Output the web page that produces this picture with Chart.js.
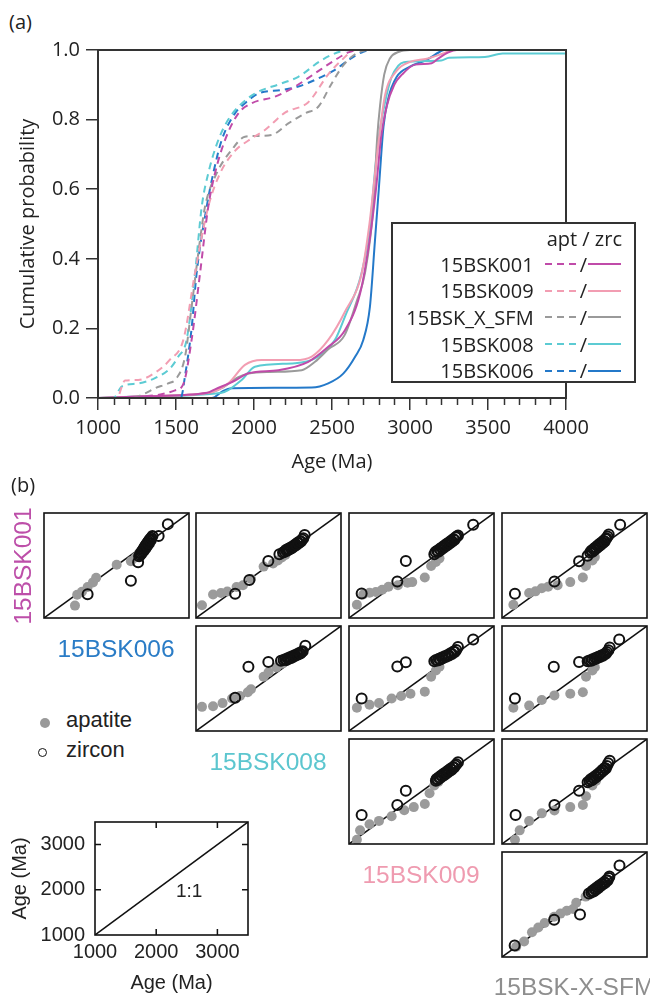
<!DOCTYPE html>
<html>
<head>
<meta charset="utf-8">
<title>Apatite / zircon age distributions</title>
<script src="https://cdn.jsdelivr.net/npm/chart.js@4.4.1/dist/chart.umd.min.js"></script>
<style>
  body { margin: 0; width: 650px; height: 995px; position: relative; overflow: hidden; background: #fff; }
  .holder { position: absolute; }
  .panel { position: absolute; font-family: 'Open Sans', sans-serif; font-size: 20px; color: #222; }
  .lbl { position: absolute; font-family: 'Liberation Sans', Arial, sans-serif; font-size: 24.5px; white-space: nowrap; transform: translate(-50%, -50%); }
  .key { position: absolute; font-family: 'Liberation Sans', Arial, sans-serif; font-size: 22px; color: #222; white-space: nowrap; }
</style>
</head>
<body>

<div class="panel" style="left:9px;top:8px;">(a)</div>
<div class="holder" style="left:0;top:0;width:650px;height:480px;"><canvas id="cdf_chart"></canvas></div>
<div id="legend" class="panel" style="left:391px;top:222px;width:245px;height:161px;box-sizing:border-box;border:2px solid #333;background:#fff;"></div>

<div class="panel" style="left:11px;top:471px;">(b)</div>
<div id="grid"></div>

<div class="lbl" style="left:23px;top:566px;color:#bd4fa9;transform:translate(-50%,-50%) rotate(-90deg);">15BSK001</div>
<div class="lbl" style="left:116px;top:649px;color:#2a7cc6;">15BSK006</div>
<div class="lbl" style="left:268px;top:762px;color:#5cc6cf;">15BSK008</div>
<div class="lbl" style="left:421px;top:875px;color:#ef9bb0;">15BSK009</div>
<div class="lbl" style="left:574px;top:987px;color:#8e8e8e;">15BSK-X-SFM</div>

<div class="key" style="left:40px;top:718px;width:10px;height:10px;border-radius:50%;background:#999;"></div>
<div class="key" style="left:66px;top:707px;">apatite</div>
<div class="key" style="left:38px;top:748px;width:7px;height:7px;border-radius:50%;border:1.6px solid #111;"></div>
<div class="key" style="left:66px;top:737px;">zircon</div>

<div class="holder" style="left:0;top:800px;width:262px;height:195px;"><canvas id="key_chart"></canvas></div>
<div class="key" style="left:176px;top:880px;font-size:19px;">1:1</div>

<script>
// ---- panel (a): cumulative probability, [age (Ma), probability] ----
const sampleNames = ['15BSK001', '15BSK009', '15BSK_X_SFM', '15BSK008', '15BSK006'];

const aptCdf001 = [[1000,0],[1200,0],[1300,0.005],[1400,0.01],[1494,0.022],[1547,0.04],[1600,0.167],[1654,0.358],[1707,0.55],[1750,0.646],[1814,0.741],[1900,0.818],[1985,0.847],[2135,0.866],[2263,0.895],[2391,0.933],[2519,0.971],[2605,0.993],[2680,1],[4000,1]];
const aptCdf009 = [[1000,0],[1120,0],[1173,0.05],[1258,0.052],[1376,0.076],[1461,0.11],[1547,0.167],[1622,0.36],[1707,0.55],[1782,0.645],[1878,0.71],[1964,0.74],[2070,0.77],[2199,0.82],[2348,0.85],[2476,0.93],[2560,0.97],[2650,1],[4000,1]];
const aptCdfX = [[1000,0],[1216,0],[1301,0.013],[1365,0.028],[1450,0.042],[1504,0.057],[1558,0.119],[1600,0.262],[1654,0.454],[1686,0.55],[1761,0.646],[1857,0.713],[1942,0.751],[2006,0.753],[2113,0.756],[2220,0.789],[2327,0.818],[2412,0.837],[2498,0.904],[2583,0.962],[2680,0.995],[2780,1],[4000,1]];
const aptCdf008 = [[1000,0],[1098,0],[1152,0.033],[1259,0.042],[1365,0.057],[1462,0.085],[1515,0.119],[1568,0.167],[1622,0.358],[1665,0.55],[1707,0.646],[1771,0.741],[1835,0.8],[1900,0.837],[2006,0.875],[2177,0.904],[2284,0.923],[2434,0.971],[2562,0.997],[2620,1],[4000,1]];
const aptCdf006 = [[1000,0],[1530,0],[1560,0.07],[1600,0.2],[1632,0.358],[1697,0.55],[1739,0.646],[1793,0.741],[1878,0.818],[1942,0.847],[2028,0.875],[2177,0.885],[2284,0.895],[2391,0.914],[2519,0.943],[2605,0.971],[2700,0.995],[2765,1],[4000,1]];

const zrcCdf001 = [[1000,0],[1300,0.005],[1700,0.015],[1750,0.025],[1878,0.05],[1964,0.071],[2156,0.08],[2348,0.104],[2476,0.147],[2583,0.195],[2680,0.3],[2740,0.45],[2782,0.6],[2815,0.75],[2850,0.837],[2899,0.9],[2950,0.93],[3032,0.958],[3139,0.962],[3180,0.975],[3246,0.993],[3300,1],[4000,1]];
const zrcCdf009 = [[1000,0],[1300,0.005],[1707,0.015],[1835,0.042],[1942,0.095],[2049,0.109],[2263,0.109],[2370,0.119],[2476,0.167],[2583,0.248],[2690,0.358],[2740,0.5],[2765,0.6],[2800,0.741],[2840,0.87],[2914,0.94],[3000,0.966],[3107,0.975],[3213,0.99],[3278,1],[4000,1]];
const zrcCdfX = [[1000,0],[1300,0.005],[1720,0.015],[1800,0.03],[1900,0.06],[1964,0.07],[2100,0.075],[2306,0.08],[2391,0.104],[2476,0.14],[2580,0.18],[2660,0.28],[2711,0.358],[2765,0.55],[2790,0.75],[2808,0.84],[2835,0.93],[2870,0.975],[2930,0.995],[3000,1],[4000,1]];
const zrcCdf008 = [[1000,0],[1300,0.005],[1793,0.015],[1921,0.052],[2006,0.09],[2263,0.1],[2391,0.114],[2519,0.167],[2583,0.234],[2690,0.36],[2745,0.5],[2775,0.65],[2800,0.75],[2840,0.85],[2880,0.92],[2925,0.955],[2960,0.965],[3200,0.97],[3250,0.978],[3480,0.98],[3594,0.99],[4000,0.99]];
const zrcCdf006 = [[1000,0],[1730,0],[1800,0.02],[1857,0.028],[2370,0.03],[2476,0.042],[2572,0.07],[2650,0.12],[2700,0.166],[2743,0.262],[2775,0.45],[2800,0.6],[2830,0.78],[2860,0.86],[2915,0.923],[3000,0.952],[3107,0.972],[3192,0.995],[3220,1],[4000,1]];

// ---- panel (b): Q-Q pairs [age column sample, age row sample] (Ma) ----
const oneToOne = [[1000,1000],[3500,3500]];
const keyTickValues = [1000, 2000, 3000];

const qq001v006Apt = [[1534,1295],[1572,1553],[1654,1627],[1752,1738],[1844,1848],[1899,1959],[2253,2268],[2498,2350],[2580,2440],[2630,2520],[2660,2580]];
const qq001v006Zrc = [[1752,1568],[2498,1885],[2623,2328],[2640,2470],[2655,2500],[2665,2540],[2680,2530],[2690,2580],[2700,2610],[2712,2640],[2720,2600],[2730,2670],[2740,2700],[2750,2660],[2755,2730],[2770,2760],[2780,2720],[2785,2790],[2800,2820],[2810,2780],[2815,2850],[2830,2880],[2840,2850],[2850,2910],[2870,2950],[2977,2954],[3135,3235]];
const qq001v008Apt = [[1103,1302],[1294,1560],[1430,1597],[1540,1630],[1700,1740],[1810,1780],[1948,1929],[2166,2224],[2329,2298],[2411,2372],[2480,2440],[2540,2500]];
const qq001v008Zrc = [[1675,1575],[1920,1907],[2247,2357],[2438,2519],[2500,2560],[2530,2580],[2550,2620],[2570,2600],[2590,2650],[2610,2630],[2630,2680],[2650,2660],[2670,2710],[2690,2700],[2710,2750],[2730,2740],[2750,2790],[2770,2780],[2790,2830],[2810,2820],[2830,2870],[2850,2900],[2874,2977]];
const qq001v009Apt = [[1136,1317],[1245,1560],[1354,1600],[1463,1620],[1572,1672],[1681,1745],[1844,1780],[2008,1841],[2090,1855],[2307,1966],[2416,2239],[2498,2335],[2560,2420]];
const qq001v009Zrc = [[1218,1583],[1833,1870],[1980,2357],[2471,2519],[2490,2570],[2520,2600],[2540,2580],[2560,2640],[2580,2620],[2600,2680],[2620,2660],[2640,2720],[2660,2700],[2680,2760],[2700,2740],[2720,2800],[2740,2780],[2760,2840],[2780,2820],[2800,2880],[2820,2860],[2840,2920],[2860,2940],[2880,2962],[3141,3220]];
const qq001vXApt = [[1196,1317],[1468,1597],[1577,1634],[1686,1708],[1795,1745],[1959,1782],[2177,1855],[2394,1966],[2449,2239],[2558,2372],[2600,2450]];
const qq001vXZrc = [[1223,1575],[1904,1870],[2329,2350],[2476,2482],[2520,2560],[2540,2600],[2560,2580],[2575,2640],[2595,2620],[2610,2680],[2630,2660],[2645,2720],[2665,2700],[2680,2760],[2700,2740],[2715,2800],[2735,2780],[2750,2840],[2770,2820],[2785,2880],[2800,2900],[2820,2940],[2840,2990],[3037,3220]];
const qq006v008Apt = [[1103,1575],[1294,1590],[1458,1664],[1621,1774],[1757,1833],[1893,1922],[1948,1996],[2166,2291],[2250,2400],[2384,2512],[2480,2600]];
const qq006v008Zrc = [[1675,1789],[1904,2527],[2247,2645],[2465,2674],[2510,2690],[2540,2710],[2560,2690],[2580,2730],[2600,2720],[2620,2755],[2640,2740],[2660,2780],[2680,2770],[2700,2805],[2720,2795],[2740,2830],[2760,2820],[2780,2855],[2800,2845],[2820,2880],[2840,2900],[2885,3028]];
const qq006v009Apt = [[1136,1553],[1354,1627],[1517,1664],[1735,1774],[1899,1833],[2060,1885],[2307,1937],[2416,2291],[2498,2440],[2560,2530]];
const qq006v009Zrc = [[1218,1774],[1833,2534],[1980,2637],[2471,2659],[2500,2690],[2530,2680],[2550,2720],[2575,2705],[2600,2750],[2625,2735],[2650,2780],[2675,2765],[2700,2810],[2725,2800],[2750,2850],[2775,2835],[2800,2890],[2825,2880],[2850,2930],[2879,3000],[3141,3176]];
const qq006vXApt = [[1196,1553],[1468,1605],[1686,1740],[1904,1848],[2177,1885],[2394,1922],[2449,2291],[2558,2440],[2600,2520]];
const qq006vXZrc = [[1223,1774],[1893,2527],[2329,2645],[2476,2660],[2510,2680],[2540,2670],[2560,2710],[2590,2700],[2610,2740],[2640,2730],[2660,2770],[2690,2760],[2710,2800],[2740,2790],[2760,2830],[2790,2840],[2810,2880],[2835,2920],[2857,2991],[3021,3176]];
const qq008v009Apt = [[1136,1103],[1191,1325],[1354,1472],[1517,1550],[1735,1660],[1953,1804],[2117,1878],[2307,1951],[2389,2210],[2471,2394],[2540,2480]];
const qq008v009Zrc = [[1218,1693],[1833,1929],[1980,2269],[2498,2505],[2510,2550],[2530,2530],[2550,2590],[2570,2570],[2590,2630],[2610,2610],[2630,2670],[2650,2650],[2670,2710],[2690,2690],[2710,2750],[2730,2730],[2750,2790],[2770,2770],[2790,2830],[2810,2820],[2830,2870],[2850,2900],[2879,2947]];
const qq008vXApt = [[1223,1103],[1305,1325],[1468,1546],[1686,1730],[1904,1800],[2177,1878],[2394,1929],[2449,2136],[2558,2394],[2620,2500]];
const qq008vXZrc = [[1234,1693],[1904,1929],[2329,2269],[2476,2468],[2510,2500],[2530,2540],[2550,2520],[2570,2580],[2590,2560],[2610,2620],[2630,2600],[2650,2660],[2670,2650],[2690,2710],[2710,2700],[2730,2760],[2750,2750],[2770,2810],[2790,2800],[2810,2860],[2830,2920],[2857,2984]];
const qq009vXApt = [[1245,1243],[1381,1369],[1517,1590],[1626,1701],[1735,1811],[1899,1959],[2008,2033],[2117,2100],[2226,2143],[2280,2291],[2443,2438],[2520,2490]];
const qq009vXZrc = [[1218,1273],[1899,1885],[2345,2010],[2498,2512],[2540,2540],[2560,2580],[2580,2560],[2600,2620],[2620,2600],[2640,2660],[2660,2640],[2680,2700],[2700,2690],[2720,2740],[2740,2730],[2760,2780],[2780,2770],[2800,2830],[2820,2820],[2840,2880],[2852,2917],[3026,3176]];

// colours per sample, same order as sampleNames
const sampleColors = ['#c04ba9', '#f29db2', '#9a9a9a', '#5ccbd3', '#2479c9'];

const toXY = pts => pts.map(p => ({x: p[0], y: p[1]}));
const aptCdf = [aptCdf001, aptCdf009, aptCdfX, aptCdf008, aptCdf006];
const zrcCdf = [zrcCdf001, zrcCdf009, zrcCdfX, zrcCdf008, zrcCdf006];

let datasets = [];
sampleNames.forEach((name, i) => {
    datasets.push({
        label: name, mineral: 'apt', data: toXY(aptCdf[i]),
        borderColor: sampleColors[i], borderWidth: 2, borderDash: [7, 5],
        pointRadius: 0, cubicInterpolationMode: 'monotone', clip: false
    });
});
sampleNames.forEach((name, i) => {
    datasets.push({
        label: name, mineral: 'zrc', data: toXY(zrcCdf[i]),
        borderColor: sampleColors[i], borderWidth: 2,
        pointRadius: 0, cubicInterpolationMode: 'monotone', clip: false
    });
});

// Legend drawn as html so it can sit half outside the plot.
const htmlLegendPlugin = {
    id: 'htmlLegend',
    afterUpdate(chart, args, options) {
        const box = document.getElementById(options.containerID);
        while (box.firstChild) box.firstChild.remove();

        const head = document.createElement('div');
        head.style.textAlign = 'right';
        head.style.paddingRight = '12px';
        head.style.marginTop = '3px';
        head.style.height = '24px';
        head.style.lineHeight = '24px';
        head.textContent = 'apt / zrc';
        box.appendChild(head);

        sampleNames.forEach(name => {
            const apt = chart.data.datasets.find(d => d.label === name && d.mineral === 'apt');
            const zrc = chart.data.datasets.find(d => d.label === name && d.mineral === 'zrc');

            const row = document.createElement('div');
            row.style.display = 'flex';
            row.style.alignItems = 'center';
            row.style.justifyContent = 'flex-end';
            row.style.height = '26.6px';
            row.style.paddingRight = '13px';

            const txt = document.createElement('span');
            txt.textContent = name;
            txt.style.marginRight = '11px';

            const dash = document.createElement('span');
            dash.style.display = 'inline-block';
            dash.style.width = '33px';
            dash.style.height = '2px';
            dash.style.background = 'repeating-linear-gradient(90deg, ' + apt.borderColor + ' 0 7px, transparent 7px 12px)';

            const slash = document.createElement('span');
            slash.textContent = '/';
            slash.style.margin = '0 1px 0 2px';

            const solid = document.createElement('span');
            solid.style.display = 'inline-block';
            solid.style.width = '33px';
            solid.style.height = '2px';
            solid.style.background = zrc.borderColor;

            row.appendChild(txt);
            row.appendChild(dash);
            row.appendChild(slash);
            row.appendChild(solid);
            box.appendChild(row);
        });
    }
};

// box round the plot + the 100 Ma minor ticks
const cdfFrame = {
    id: 'cdfFrame',
    afterDraw(chart) {
        const {ctx, chartArea: a} = chart;
        const x = chart.scales.x;
        ctx.save();
        ctx.strokeStyle = '#333';
        ctx.lineWidth = 2;
        ctx.strokeRect(a.left, a.top, a.right - a.left, a.bottom - a.top);
        ctx.lineWidth = 1.5;
        for (let v = 1100; v < 4000; v += 100) {
            if (v % 500 === 0) continue;
            const px = Math.round(x.getPixelForValue(v)) + 0.5;
            ctx.beginPath();
            ctx.moveTo(px, a.bottom);
            ctx.lineTo(px, a.bottom + 7);
            ctx.stroke();
        }
        ctx.restore();
    }
};

const fontA = {family: "'Open Sans', sans-serif", size: 20};

new Chart(document.getElementById('cdf_chart'), {
    type: 'line',
    data: {datasets: datasets},
    options: {
        animation: false,
        responsive: true,
        maintainAspectRatio: false,
        events: [],
        layout: {padding: {left: 0, top: 50, right: 84, bottom: 0}},
        plugins: {
            legend: {display: false},
            tooltip: {enabled: false},
            htmlLegend: {containerID: 'legend'}
        },
        scales: {
            x: {
                type: 'linear', min: 1000, max: 4000,
                afterFit: s => { s.height = 82; },
                ticks: {stepSize: 500, padding: 6, color: '#222', font: fontA, maxRotation: 0, autoSkip: false, callback: v => String(v)},
                grid: {drawOnChartArea: false, tickLength: 12, lineWidth: 1.5, color: '#333'},
                border: {display: false},
                title: {display: true, text: 'Age (Ma)', color: '#222', font: fontA, padding: {top: 0, bottom: 6}}
            },
            y: {
                min: 0, max: 1,
                afterFit: s => { s.width = 98; },
                ticks: {stepSize: 0.2, padding: 6, color: '#222', font: fontA, callback: v => v.toFixed(1)},
                grid: {drawOnChartArea: false, tickLength: 12, lineWidth: 1.5, color: '#333'},
                border: {display: false},
                title: {display: true, text: 'Cumulative probability', color: '#222', font: fontA, padding: {top: 16, bottom: 0}}
            }
        }
    },
    plugins: [htmlLegendPlugin, cdfFrame]
});

// ---- panel (b) ----
const cellFrame = {
    id: 'cellFrame',
    afterDraw(chart) {
        const {ctx, chartArea: a} = chart;
        ctx.save();
        ctx.strokeStyle = '#111';
        ctx.lineWidth = 1.6;
        ctx.strokeRect(a.left, a.top, a.right - a.left, a.bottom - a.top);
        ctx.restore();
    }
};

const colLeft = [40, 192, 345, 498];
const rowTop = [509, 622, 735, 848];
const cellW = 153, cellH = 113;

const cells = [
    {row: 0, col: 0, apt: qq001v006Apt, zrc: qq001v006Zrc},
    {row: 0, col: 1, apt: qq001v008Apt, zrc: qq001v008Zrc},
    {row: 0, col: 2, apt: qq001v009Apt, zrc: qq001v009Zrc},
    {row: 0, col: 3, apt: qq001vXApt, zrc: qq001vXZrc},
    {row: 1, col: 1, apt: qq006v008Apt, zrc: qq006v008Zrc},
    {row: 1, col: 2, apt: qq006v009Apt, zrc: qq006v009Zrc},
    {row: 1, col: 3, apt: qq006vXApt, zrc: qq006vXZrc},
    {row: 2, col: 2, apt: qq008v009Apt, zrc: qq008v009Zrc},
    {row: 2, col: 3, apt: qq008vXApt, zrc: qq008vXZrc},
    {row: 3, col: 3, apt: qq009vXApt, zrc: qq009vXZrc}
];

const grid = document.getElementById('grid');
cells.forEach(c => {
    const holder = document.createElement('div');
    holder.className = 'holder';
    holder.style.left = (colLeft[c.col] - 3) + 'px';
    holder.style.top = (rowTop[c.row] - 3) + 'px';
    holder.style.width = (cellW + 6) + 'px';
    holder.style.height = (cellH + 6) + 'px';
    const cv = document.createElement('canvas');
    holder.appendChild(cv);
    grid.appendChild(holder);

    new Chart(cv, {
        type: 'scatter',
        data: {
            datasets: [
                {data: toXY(c.zrc), pointRadius: 5, backgroundColor: 'rgba(0,0,0,0)', borderColor: '#111', borderWidth: 2},
                {data: toXY(c.apt), pointRadius: 5, backgroundColor: '#9b9b9b', borderWidth: 0},
                {type: 'line', data: toXY(oneToOne), borderColor: '#111', borderWidth: 1.5, pointRadius: 0}
            ]
        },
        options: {
            animation: false,
            responsive: true,
            maintainAspectRatio: false,
            events: [],
            layout: {padding: 3},
            plugins: {legend: {display: false}, tooltip: {enabled: false}},
            scales: {
                x: {type: 'linear', min: 1000, max: 3500, display: false},
                y: {type: 'linear', min: 1000, max: 3500, display: false}
            }
        },
        plugins: [cellFrame]
    });
});

// key plot with inward ticks on all four sides
const keyTicks = {
    id: 'keyTicks',
    afterDraw(chart) {
        const {ctx, chartArea: a} = chart;
        const {x, y} = chart.scales;
        ctx.save();
        ctx.strokeStyle = '#111';
        ctx.lineWidth = 1.5;
        keyTickValues.slice(1).forEach(v => {
            const px = x.getPixelForValue(v), py = y.getPixelForValue(v);
            ctx.beginPath();
            ctx.moveTo(px, a.top); ctx.lineTo(px, a.top + 6);
            ctx.moveTo(px, a.bottom); ctx.lineTo(px, a.bottom - 6);
            ctx.moveTo(a.left, py); ctx.lineTo(a.left + 6, py);
            ctx.moveTo(a.right, py); ctx.lineTo(a.right - 6, py);
            ctx.stroke();
        });
        ctx.restore();
    }
};

const fontB = {family: "'Liberation Sans', Arial, sans-serif", size: 20};
const fixKeyTicks = s => { s.ticks = keyTickValues.map(v => ({value: v})); };

new Chart(document.getElementById('key_chart'), {
    type: 'scatter',
    data: {datasets: [{type: 'line', data: toXY(oneToOne), borderColor: '#111', borderWidth: 1.5, pointRadius: 0}]},
    options: {
        animation: false,
        responsive: true,
        maintainAspectRatio: false,
        events: [],
        layout: {padding: {left: 0, top: 22, right: 14, bottom: 0}},
        plugins: {legend: {display: false}, tooltip: {enabled: false}},
        scales: {
            x: {
                type: 'linear', min: 1000, max: 3500,
                afterBuildTicks: fixKeyTicks,
                afterFit: s => { s.height = 60; },
                ticks: {padding: 5, color: '#222', font: fontB, maxRotation: 0, autoSkip: false, callback: v => String(v)},
                grid: {display: false, drawTicks: false},
                border: {display: false},
                title: {display: true, text: 'Age (Ma)', color: '#222', font: fontB, padding: {top: 0, bottom: 0}}
            },
            y: {
                type: 'linear', min: 1000, max: 3500,
                afterBuildTicks: fixKeyTicks,
                afterFit: s => { s.width = 95; },
                ticks: {padding: 10, color: '#222', font: fontB, autoSkip: false, callback: v => String(v)},
                grid: {display: false, drawTicks: false},
                border: {display: false},
                title: {display: true, text: 'Age (Ma)', color: '#222', font: fontB, padding: {top: 8, bottom: 0}}
            }
        }
    },
    plugins: [cellFrame, keyTicks]
});
</script>
</body>
</html>
